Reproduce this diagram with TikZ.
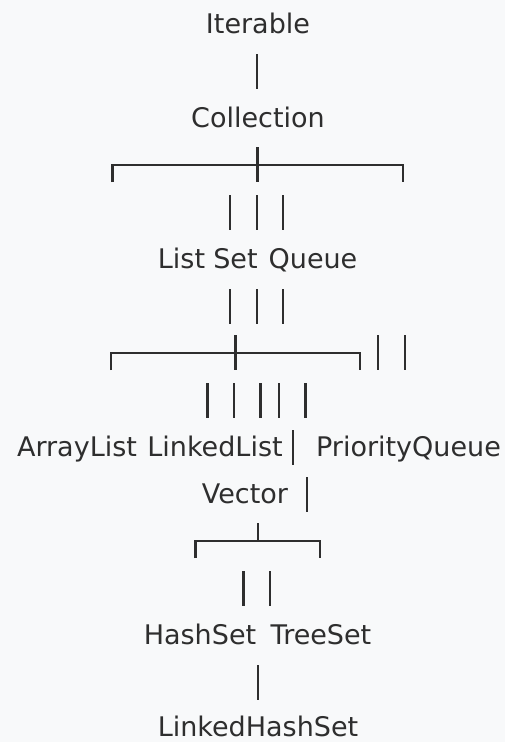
\documentclass[tikz,border=0pt]{standalone}
\usepackage{fontspec}
\setmainfont{DejaVu Sans}
\definecolor{paper}{HTML}{F8F9FA}
\definecolor{ink}{HTML}{2E2E2E}
\begin{document}
\begin{tikzpicture}[x=1pt,y=-1pt,
  lbl/.style={anchor=base, inner sep=0pt, text=ink,
    font=\fontsize{27}{30}\selectfont},
  rule/.style={draw=ink, line width=2.4pt},
  % vertical bar glyph standing on a text baseline
  vbar/.style={rule}]
\fill[paper] (0,0) rectangle (505,742);
\useasboundingbox (0,0) rectangle (505,742);

% class and interface names
\node[lbl] (iter)  at (258,33)  {Iterable};
\node[lbl] (coll)  at (258,127) {Collection};
\node[lbl] (list)  at (181.5,268) {List};
\node[lbl] (set)   at (235.5,268) {Set};
\node[lbl] (queue) at (313,268) {Queue};
\node[lbl] (alist) at (77,456)  {ArrayList};
\node[lbl] (llist) at (215,456) {LinkedList};
\node[lbl] (pq)    at (408.5,456) {PriorityQueue};
\node[lbl] (vec)   at (245,503) {Vector};
\node[lbl] (hset)  at (200,644) {HashSet};
\node[lbl] (tset)  at (321,644) {TreeSet};
\node[lbl] (lhset) at (258,736) {LinkedHashSet};

% Iterable -> Collection
\draw[vbar] (257,54) -- (257,89);

% Collection fan-out
\draw[rule] (112.5,182) -- (112.5,165) -- (403,165) -- (403,182);
\draw[rule] (257.5,147) -- (257.5,182);
\foreach \x in {230,257,283} \draw[vbar] (\x,195) -- (\x,230);

% below List Set Queue
\foreach \x in {230,257,283} \draw[vbar] (\x,289) -- (\x,324);

% List fan-out
\draw[rule] (111,370) -- (111,353) -- (360,353) -- (360,370);
\draw[rule] (235.5,335) -- (235.5,370);
\foreach \x in {378,405} \draw[vbar] (\x,335) -- (\x,370);
\foreach \x in {207.5,234,260.5,279,305.5} \draw[vbar] (\x,383) -- (\x,418);

% bars between the leaf rows
\draw[vbar] (293,430) -- (293,465);
\draw[vbar] (307,477) -- (307,512);

% Set fan-out
\draw[rule] (195.5,558) -- (195.5,541) -- (320,541) -- (320,558);
\draw[rule] (258,523) -- (258,541);
\foreach \x in {243.5,270} \draw[vbar] (\x,571) -- (\x,606);

% HashSet -> LinkedHashSet
\draw[vbar] (258,665) -- (258,700);
\end{tikzpicture}
\end{document}
